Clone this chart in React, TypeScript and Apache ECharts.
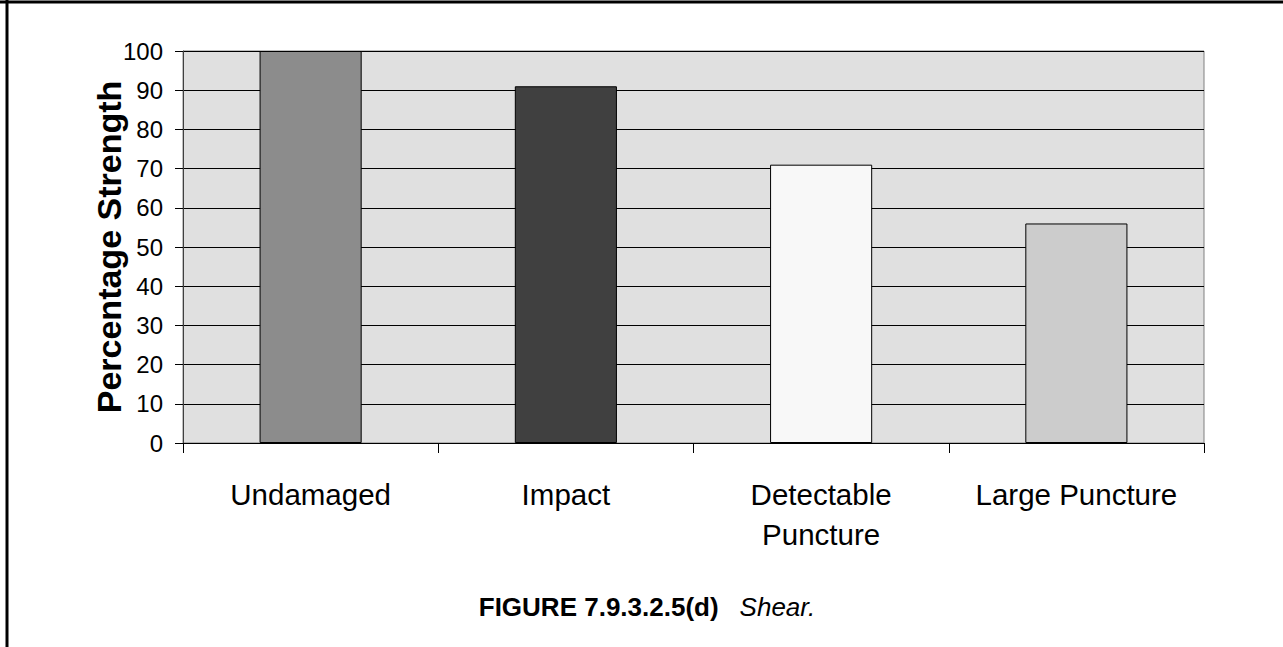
import React, { useEffect, useRef } from "react";
import * as echarts from "echarts";

const categories = ["Undamaged", "Impact", "Detectable\nPuncture", "Large Puncture"];
const values = [100, 91, 71, 56];
const barColors = ["#8c8c8c", "#404040", "#f8f8f8", "#cccccc"];
const yTicks = { min: 0, max: 100, interval: 10 };
const yTitle = "Percentage Strength";
const captionBold = "FIGURE 7.9.3.2.5(d)";
const captionItalic = "Shear.";

export default function App() {
  const ref = useRef<HTMLDivElement>(null);
  useEffect(() => {
    if (!ref.current) return;
    const chart = echarts.init(ref.current, null, { renderer: "svg" });
    const font = "Liberation Sans, Arial, sans-serif";
    chart.setOption({
      animation: false,
      backgroundColor: "#ffffff",
      textStyle: { fontFamily: font },
      grid: {
        left: 183,
        right: 79,
        top: 51,
        bottom: 204,
        show: true,
        backgroundColor: "#e0e0e0",
        borderColor: "#808080",
        borderWidth: 1,
      },
      xAxis: {
        type: "category",
        data: categories,
        axisLine: { show: true, lineStyle: { color: "#000", width: 1 } },
        axisTick: { show: true, length: 10, alignWithLabel: false, lineStyle: { color: "#000" } },
        axisLabel: {
          color: "#000",
          fontSize: 29.5,
          fontFamily: font,
          margin: 31,
          lineHeight: 40,
          interval: 0,
          verticalAlign: "top",
        },
      },
      yAxis: {
        type: "value",
        min: yTicks.min,
        max: yTicks.max,
        interval: yTicks.interval,
        name: yTitle,
        nameLocation: "middle",
        nameGap: 57,
        nameMoveOverlap: false,
        nameTextStyle: { fontSize: 34, fontWeight: "bold", color: "#000", fontFamily: font },
        axisLine: { show: true, lineStyle: { color: "#404040", width: 1 } },
        axisTick: { show: true, inside: false, length: 8, lineStyle: { color: "#000" } },
        axisLabel: { color: "#000", fontSize: 24, fontFamily: font, margin: 20 },
        splitLine: { show: true, lineStyle: { color: "#000", width: 1 } },
      },
      series: [
        {
          type: "bar",
          barWidth: "40%",
          data: values.map((v, i) => ({
            value: v,
            itemStyle: { color: barColors[i], borderColor: "#000", borderWidth: 1 },
          })),
        },
      ],
      graphic: [
        {
          type: "line",
          shape: { x1: 0, y1: 2, x2: 1283, y2: 2 },
          style: { stroke: "#000", lineWidth: 3 },
        },
        {
          type: "line",
          shape: { x1: 7, y1: 0, x2: 7, y2: 647 },
          style: { stroke: "#000", lineWidth: 3 },
        },
        {
          type: "text",
          x: 647,
          y: 607,
          style: {
            text: "{b|" + captionBold + "}{i|" + captionItalic + "}",
            align: "center",
            verticalAlign: "middle",
            fontFamily: font,
            rich: {
              b: { fontSize: 26, fontWeight: "bold", fill: "#000", fontFamily: font },
              i: {
                fontSize: 26,
                fontStyle: "italic",
                fill: "#000",
                fontFamily: font,
                padding: [0, 0, 0, 21],
              },
            },
          },
        },
      ],
    });
    return () => chart.dispose();
  }, []);
  return (
    <div
      ref={ref}
      style={{ position: "absolute", left: 0, top: 0, width: 1283, height: 647 }}
    />
  );
}
